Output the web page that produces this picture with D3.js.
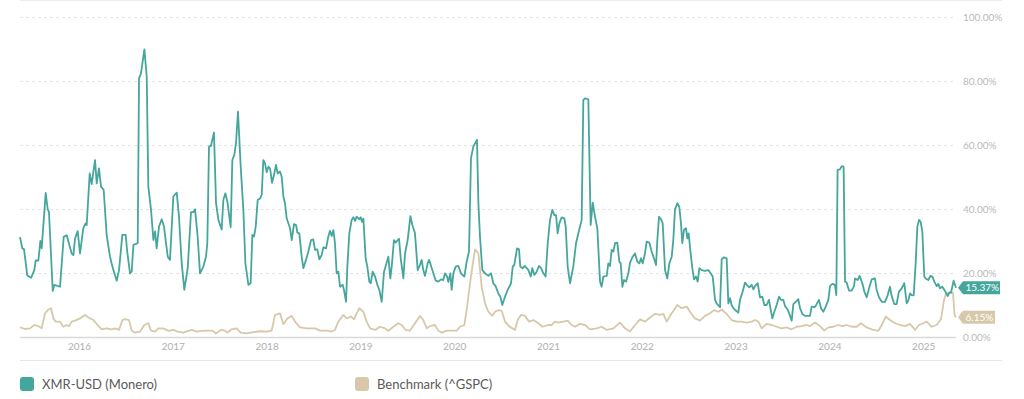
<!DOCTYPE html>
<html><head><meta charset="utf-8">
<script src="https://cdn.jsdelivr.net/npm/d3@7"></script>
<style>html,body{margin:0;padding:0;background:#fff;}svg{display:block;font-family:Lato,"Open Sans",sans-serif;}</style>
</head><body><svg id="c" width="1024" height="399"></svg>
<script>
// ---- data (decimal years, volatility %) ----
const xmrTime = [2015.371,2015.396,2015.414,2015.449,2015.489,2015.524,2015.538,2015.567,2015.588,2015.602,2015.645,2015.666,2015.680,2015.720,2015.737,2015.798,2015.837,2015.869,2015.922,2015.940,2015.958,2015.986,
2016.011,2016.046,2016.071,2016.082,2016.114,2016.135,2016.171,2016.189,2016.213,2016.235,2016.263,2016.295,2016.331,2016.356,2016.402,2016.427,2016.462,2016.498,2016.512,2016.544,2016.562,2016.580,2016.626,2016.640,2016.661,2016.697,2016.722,2016.739,2016.768,2016.793,2016.811,2016.828,2016.853,2016.882,2016.906,2016.946,2016.970,
2017.006,2017.042,2017.066,2017.095,2017.123,2017.159,2017.194,2017.219,2017.237,2017.265,2017.290,2017.326,2017.354,2017.368,2017.386,2017.407,2017.439,2017.461,2017.486,2017.521,2017.539,2017.560,2017.582,2017.617,2017.635,2017.656,2017.674,2017.695,2017.724,2017.752,2017.774,2017.806,2017.830,2017.848,2017.866,2017.884,2017.905,2017.930,2017.948,2017.965,2017.983,
2018.001,2018.019,2018.037,2018.058,2018.079,2018.100,2018.118,2018.143,2018.161,2018.179,2018.196,2018.214,2018.250,2018.268,2018.292,2018.314,2018.328,2018.349,2018.374,2018.392,2018.420,2018.445,2018.474,2018.498,2018.516,2018.541,2018.562,2018.587,2018.605,2018.634,2018.658,2018.676,2018.694,2018.712,2018.729,2018.747,2018.765,2018.783,2018.811,2018.825,2018.847,2018.861,2018.882,2018.907,2018.925,2018.943,2018.960,2018.989,
2019.003,2019.017,2019.032,2019.056,2019.074,2019.095,2019.110,2019.131,2019.156,2019.181,2019.202,2019.227,2019.252,2019.273,2019.298,2019.319,2019.334,2019.358,2019.376,2019.398,2019.412,2019.430,2019.458,2019.476,2019.504,2019.533,2019.554,2019.582,2019.611,2019.632,2019.653,2019.671,2019.689,2019.717,2019.732,2019.753,2019.778,2019.803,2019.831,2019.860,2019.884,2019.902,2019.924,2019.938,2019.959,2019.973,2019.991,
2020.016,2020.044,2020.073,2020.108,2020.133,2020.158,2020.179,2020.204,2020.243,2020.258,2020.275,2020.300,2020.329,2020.364,2020.393,2020.417,2020.442,2020.471,2020.492,2020.513,2020.542,2020.570,2020.606,2020.624,2020.641,2020.670,2020.691,2020.705,2020.727,2020.755,2020.791,2020.816,2020.833,2020.855,2020.879,2020.904,2020.926,2020.951,2020.975,2020.997,
2021.022,2021.046,2021.068,2021.086,2021.103,2021.121,2021.146,2021.174,2021.189,2021.210,2021.235,2021.270,2021.299,2021.324,2021.359,2021.377,2021.395,2021.430,2021.455,2021.477,2021.501,2021.526,2021.555,2021.572,2021.590,2021.626,2021.643,2021.661,2021.679,2021.697,2021.715,2021.739,2021.761,2021.775,2021.793,2021.811,2021.832,2021.857,2021.874,2021.903,2021.928,2021.953,2021.974,2021.992,
2022.010,2022.034,2022.052,2022.081,2022.105,2022.130,2022.152,2022.166,2022.184,2022.205,2022.223,2022.248,2022.272,2022.294,2022.319,2022.336,2022.354,2022.379,2022.400,2022.418,2022.432,2022.450,2022.471,2022.486,2022.500,2022.521,2022.539,2022.557,2022.578,2022.596,2022.614,2022.639,2022.674,2022.710,2022.734,2022.756,2022.781,2022.798,2022.834,2022.852,2022.877,2022.905,2022.923,2022.941,2022.958,2022.976,
2023.005,2023.029,2023.047,2023.076,2023.101,2023.118,2023.147,2023.172,2023.189,2023.207,2023.236,2023.260,2023.285,2023.307,2023.331,2023.356,2023.378,2023.392,2023.413,2023.438,2023.463,2023.484,2023.509,2023.527,2023.555,2023.577,2023.598,2023.616,2023.641,2023.669,2023.687,2023.712,2023.740,2023.769,2023.793,2023.811,2023.840,2023.854,2023.868,2023.889,2023.911,2023.936,2023.961,2023.989,
2024.007,2024.032,2024.060,2024.074,2024.088,2024.113,2024.131,2024.152,2024.167,2024.184,2024.209,2024.238,2024.263,2024.273,2024.302,2024.323,2024.351,2024.373,2024.398,2024.423,2024.451,2024.486,2024.504,2024.529,2024.558,2024.593,2024.622,2024.646,2024.664,2024.692,2024.717,2024.742,2024.771,2024.799,2024.824,2024.842,2024.860,2024.877,2024.899,2024.920,2024.938,2024.956,2024.973,2024.991,
2025.012,2025.027,2025.055,2025.076,2025.098,2025.119,2025.144,2025.162,2025.179,2025.204,2025.233,2025.261,2025.279,2025.297,2025.325,2025.350];
const xmrVol = [31.2,27.7,27.4,19.2,18.5,21,23.9,23.9,30,27.7,45,40,39,14.4,16.3,15.7,31.3,31.8,26.1,25.6,30.8,33.1,
26.1,34,35.5,35,51.1,47.8,55.3,48,52.7,47,46,31.8,25.1,22,17.6,20.9,31.9,31.9,27.2,19.9,20.4,28.8,29.3,80.8,82.4,89.9,81.4,47,39.7,30.3,33,27.7,34.5,36.8,34.5,25.1,24.1,
43.9,45.1,37.6,23,14.7,21.5,39,39,39.9,31.4,19.9,22,25.1,29.3,59.5,59.7,63.9,41.8,36.6,33.6,42.8,44.9,42.3,34.3,55.3,56.9,60.7,70.4,53.2,39.9,23,16.3,16.8,31.9,31.4,34.5,42.8,43.3,44.4,55.3,54.3,
51.5,53.2,52.7,48.2,50.6,53.8,51.1,51.7,50.1,43.9,41.8,37.1,34,30.3,35.3,35,32.6,32.4,25.1,21.5,24.1,26.7,30.3,30.5,27.2,27.4,24.3,25.6,28,27.7,31.4,33.2,31.6,33.4,29.3,19.9,20.4,15.7,16.3,14.7,11,22,32.4,36.6,37.4,36.3,37.6,36.8,
37.4,36,37,24.6,22,17.3,16.8,20.4,18.9,16.3,14.7,11,20.4,22.5,25.1,18.3,22,30.3,29.5,30.3,30.7,24.6,18.3,26.1,30.3,37.8,35,32.4,20.9,22.2,24.1,20.9,19.1,23,24.1,22.2,19.9,17.6,17.3,18,17.8,19.9,18.9,17.2,19.9,14.7,19.9,
22,22.2,19.9,18.9,23.5,26.7,55.8,59.5,61.6,41.8,31.4,20.9,19.9,19.1,19.9,16.8,15.9,13.6,12.6,10,12.6,14.7,16.8,22,22.5,27.7,27.4,22,21.5,22.2,20.9,18.9,21.5,19.4,20.4,22.2,21.5,19.9,18.9,29.3,
36.6,39.7,38.1,38.1,32.4,35.5,37.4,37.1,34.5,22,16.8,22,29.3,32.4,36.6,74.1,74.6,74.3,35,42,37.6,34,17.3,15.7,18.9,19.1,23,22.2,27.2,26.7,29.3,29.5,23.5,23,15.7,17.8,17.3,19.9,23.2,25.1,26.1,23.5,23,24.6,
23,26.1,29.8,29.5,26.7,24.6,22.5,30.3,37.6,36.8,35.5,20.9,18.3,23,25.1,30.3,39.9,41.8,40.7,35.5,29.3,33.5,34,30.8,32.4,26.1,21.5,18,18.9,17.3,21.5,20.9,20.7,20.9,19.9,18.9,11.6,10.5,9.3,24.3,24.9,24.6,10.5,12.1,10,9,
8.2,7.6,11.6,14.2,17,16.3,15.5,16.3,14.9,15.9,16.8,12.4,12.6,10,10,11.6,7.9,5.8,7.9,10,12.6,11.6,11.6,9.7,8.6,6.9,5.1,10.3,11,11.8,9,7.2,6.6,6.6,6.6,9.5,9.3,9.7,10.5,11.6,9,7.9,9.5,11.6,
15.9,16.6,16.3,13.1,52.2,52.4,53.4,53.2,17.3,17,14.5,14.5,15.9,18.3,17.8,19.1,16.8,14.2,12.4,15.2,18,18.3,14.7,12.4,11,11,13.1,15.7,12.8,10.3,10.3,14.2,15.2,16.8,10.5,11.4,13.6,13.1,13,23,34.5,36.6,36,32.9,
18.9,18.3,17.8,19.1,18.9,17.3,15.9,16.6,15.2,15.7,14.4,12.8,13.9,13.9,17.6,15.37];

const gspcTime = [2015.371,2015.425,2015.478,2015.524,2015.567,2015.602,2015.638,2015.673,2015.702,2015.727,2015.751,2015.798,2015.833,2015.869,2015.894,2015.922,2015.958,
2016.011,2016.064,2016.100,2016.153,2016.199,2016.242,2016.295,2016.349,2016.384,2016.427,2016.462,2016.491,2016.533,2016.562,2016.597,2016.651,2016.697,2016.739,2016.768,2016.811,2016.846,2016.899,2016.953,
2017.006,2017.059,2017.112,2017.166,2017.201,2017.255,2017.308,2017.361,2017.425,2017.461,2017.510,2017.557,2017.582,2017.628,2017.681,2017.724,2017.788,2017.859,2017.930,
2018.001,2018.054,2018.090,2018.143,2018.179,2018.221,2018.268,2018.303,2018.356,2018.427,2018.516,2018.570,2018.641,2018.694,2018.729,2018.765,2018.818,2018.854,2018.897,2018.932,2018.960,2018.989,
2019.032,2019.067,2019.103,2019.156,2019.209,2019.263,2019.298,2019.351,2019.405,2019.440,2019.483,2019.529,2019.582,2019.635,2019.671,2019.707,2019.742,2019.795,2019.831,2019.867,2019.920,2019.973,
2020.027,2020.062,2020.108,2020.133,2020.169,2020.194,2020.222,2020.258,2020.293,2020.329,2020.364,2020.407,2020.435,2020.471,2020.506,2020.542,2020.584,2020.648,2020.677,2020.712,2020.755,2020.798,2020.844,2020.897,2020.940,
2021.004,2021.039,2021.075,2021.110,2021.164,2021.210,2021.252,2021.288,2021.341,2021.395,2021.448,2021.519,2021.572,2021.626,2021.697,2021.768,2021.821,2021.874,2021.928,2021.981,
2022.034,2022.088,2022.141,2022.194,2022.230,2022.265,2022.319,2022.379,2022.425,2022.479,2022.514,2022.567,2022.621,2022.674,2022.727,2022.770,2022.816,2022.852,2022.905,2022.958,
2023.011,2023.065,2023.118,2023.172,2023.207,2023.243,2023.278,2023.331,2023.385,2023.438,2023.491,2023.545,2023.598,2023.651,2023.705,2023.758,2023.793,2023.847,2023.900,2023.946,2023.989,
2024.042,2024.095,2024.138,2024.184,2024.238,2024.291,2024.337,2024.398,2024.451,2024.522,2024.558,2024.600,2024.646,2024.700,2024.753,2024.806,2024.860,2024.913,2024.956,
2025.002,2025.037,2025.091,2025.144,2025.190,2025.222,2025.244,2025.318,2025.334,2025.350];
const gspcVol = [3.0,2.5,2.7,3.75,3.4,2.7,7.4,8.6,9.0,5.8,4.8,4.8,3.2,3.75,3.4,4.8,5.1,
5.8,6.9,6.1,5.3,3.75,2.4,2.7,2.4,2.7,2.2,5.3,5.6,5.3,2.0,1.35,1.7,3.75,4.3,2.0,1.7,2.7,2.7,1.9,
2.2,1.6,1.35,1.9,2.2,1.7,1.9,2.0,2.0,1.1,2.2,2.0,1.35,2.4,2.7,1.35,1.1,1.5,1.8,
1.7,2.0,6.9,7.4,4.0,5.8,6.6,4.8,3.0,2.7,2.7,2.0,2.0,1.7,2.2,4.8,6.9,5.8,6.4,5.5,7.4,9.0,
7.9,4.8,2.7,2.2,3.2,2.7,1.9,3.2,4.3,3.75,2.2,2.0,4.3,6.6,5.3,2.7,3.4,3.75,2.0,1.35,2.0,2.0,
2.0,3.2,3.75,8.4,16.8,22,27.4,26.1,15.7,10.5,7.9,6.6,7.9,8.4,8.2,4.8,3.4,2.2,5.3,6.9,6.6,4.8,5.3,4.3,3.2,
3.75,3.75,4.8,4.5,4.8,5.1,3.75,3.2,4.1,3.75,2.4,2.7,3.2,2.2,2.7,4.5,2.7,1.7,3.75,5.5,
4.8,6.1,7.2,6.9,7.2,4.8,7.4,10,9,9.5,7.9,5.8,5.1,6.6,7.4,8.4,7.9,8.6,7.2,5.3,
4.8,4.8,4.5,4.8,5.3,4.8,2.7,4.1,3.75,3.2,2.7,3.0,2.4,3.2,3.4,3.75,3.4,4.5,3.4,2.0,3.0,
3.2,3.75,3.4,3.75,3.2,3.2,4.3,3.0,2.4,1.9,3.75,6.4,5.3,4.3,3.75,3.4,4.1,2.2,3.75,
4.3,4.8,3.2,3.75,5.6,11.5,13.6,13.9,7.0,6.15];

const yTicks = [0,20,40,60,80,100];
const yearTicks = [2016,2017,2018,2019,2020,2021,2022,2023,2024,2025];
const seriesNames = ["XMR-USD (Monero)","Benchmark (^GSPC)"];
const seriesColors = ["#45a69c","#d7c8aa"];

// ---- drawing ----
const svg = d3.select("#c");
const x = d3.scaleLinear().domain([2015.371, 2025.35]).range([20, 956]);
const y = d3.scaleLinear().domain([0, 100]).range([337, 17]);

// top border
svg.append("line").attr("x1",20).attr("x2",1002).attr("y1",0.5).attr("y2",0.5)
  .attr("stroke","#ececf0").attr("stroke-width",1);

// gridlines
svg.append("g").selectAll("line").data(yTicks.filter(d=>d>0)).join("line")
  .attr("x1",20).attr("x2",955).attr("y1",d=>Math.round(y(d))+0.5).attr("y2",d=>Math.round(y(d))+0.5)
  .attr("stroke","#e3e3e3").attr("stroke-dasharray","3,3");

// right axis labels
const yAxis = d3.axisRight(y).tickValues(yTicks).tickSize(0).tickPadding(0)
  .tickFormat(d => d3.format(".2f")(d) + "%");
const gy = svg.append("g").attr("transform","translate(963,0)").call(yAxis);
gy.select(".domain").remove();
gy.selectAll("text").attr("fill","#b9b9b9").attr("font-size",10).attr("font-family","Lato, sans-serif").attr("dy","0.35em");

// baseline
svg.append("line").attr("x1",20).attr("x2",956).attr("y1",337.5).attr("y2",337.5)
  .attr("stroke","#d9d9d9").attr("stroke-width",1.5);

// x axis labels
const xAxis = d3.axisBottom(x).tickValues(yearTicks).tickSize(0).tickPadding(0).tickFormat(d3.format("d"));
const gx = svg.append("g").attr("transform","translate(0,343)").call(xAxis);
gx.select(".domain").remove();
gx.selectAll("text").attr("fill","#b0b0b0").attr("font-size",10).attr("font-family","Lato, sans-serif");

// separator
svg.append("line").attr("x1",20).attr("x2",1002).attr("y1",360.5).attr("y2",360.5)
  .attr("stroke","#e6e6f2").attr("stroke-width",1);

// lines
const line = d3.line().x(d=>x(d[0])).y(d=>y(d[1]));
const gspcData = gspcTime.map((t,i)=>[t,gspcVol[i]]);
const xmrData = xmrTime.map((t,i)=>[t,xmrVol[i]]);
svg.append("path").datum(gspcData).attr("d",line).attr("fill","none")
  .attr("stroke",seriesColors[1]).attr("stroke-width",1.8).attr("stroke-linejoin","round");
svg.append("path").datum(xmrData).attr("d",line).attr("fill","none")
  .attr("stroke",seriesColors[0]).attr("stroke-width",1.8).attr("stroke-linejoin","round");

// end labels
function endLabel(val, color, w){
  const yc = y(val);
  const g = svg.append("g");
  g.append("path").attr("d",`M958,${yc} L963,${yc-6.5} L${963+w},${yc-6.5} L${963+w},${yc+6.5} L963,${yc+6.5} Z`)
   .attr("fill",color);
  g.append("text").attr("x",965.5).attr("y",yc).attr("dy","0.35em").attr("fill","#fff")
   .attr("font-size",10).attr("font-family","Lato, sans-serif").text(d3.format(".2f")(val)+"%");
}
endLabel(xmrVol[xmrVol.length-1], seriesColors[0], 37);
endLabel(gspcVol[gspcVol.length-1], seriesColors[1], 32);

// legend
const legX = [20, 355];
seriesNames.forEach((n,i)=>{
  svg.append("rect").attr("x",legX[i]).attr("y",377).attr("width",14).attr("height",14).attr("rx",3)
    .attr("fill",seriesColors[i]);
  svg.append("text").attr("x",legX[i]+22).attr("y",384).attr("dy","0.35em")
    .attr("fill","#5a5a5a").attr("font-size",13).attr("font-family","Lato, sans-serif").text(n);
});
</script></body></html>
